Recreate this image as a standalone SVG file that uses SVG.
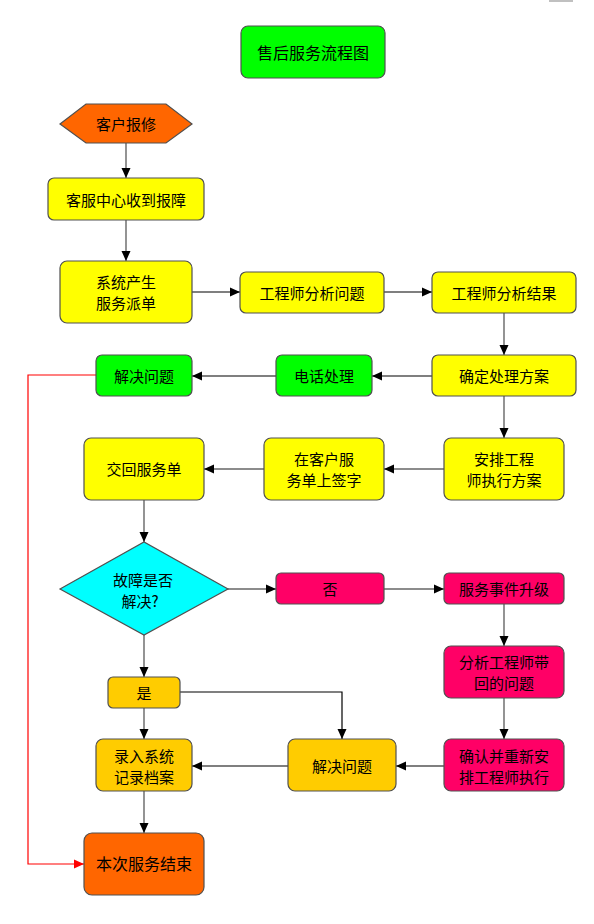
<svg xmlns="http://www.w3.org/2000/svg" width="594" height="924" viewBox="0 0 594 924">
<defs>
<style>
.box{stroke:#505050;stroke-width:1.2}
.y{fill:#FFFF00}.g{fill:#00FF00}.o{fill:#FF6600}.c{fill:#00FFFF}.p{fill:#FF0066}.gd{fill:#FFCC00}
text{font-family:"Noto Sans CJK SC","Liberation Sans",sans-serif;font-size:15px;fill:#000;text-anchor:middle;dominant-baseline:central}
.k{fill:none;stroke:#000;stroke-width:1.2}
.gr{fill:none;stroke:#666;stroke-width:1.4}
.rd{fill:none;stroke:#FF0000;stroke-width:1.2}
</style>
<marker id="ah" markerUnits="userSpaceOnUse" markerWidth="12" markerHeight="12" viewBox="0 0 12 12" refX="11" refY="6" orient="auto">
<path d="M1,1.5 L11,6 L1,10.5 Z" fill="#000"/>
</marker>
<marker id="ahr" markerUnits="userSpaceOnUse" markerWidth="12" markerHeight="12" viewBox="0 0 12 12" refX="11" refY="6" orient="auto">
<path d="M1,1.5 L11,6 L1,10.5 Z" fill="#FF0000"/>
</marker>
</defs>
<rect x="0" y="0" width="594" height="924" fill="#fff"/>
<rect x="549" y="0" width="24" height="2" fill="#c0c0c0"/>

<g id="connectors">
<path class="gr" d="M126,143 V178" marker-end="url(#ah)"/>
<path class="gr" d="M126,220 V261" marker-end="url(#ah)"/>
<path class="k" d="M192,292 H240" marker-end="url(#ah)"/>
<path class="k" d="M384,292 H432" marker-end="url(#ah)"/>
<path class="gr" d="M504,313 V355" marker-end="url(#ah)"/>
<path class="k" d="M432,376 H372" marker-end="url(#ah)"/>
<path class="k" d="M276,376 H192" marker-end="url(#ah)"/>
<path class="gr" d="M504,396 V438" marker-end="url(#ah)"/>
<path class="gr" d="M444,469 H384" marker-end="url(#ah)"/>
<path class="gr" d="M264,469 H204" marker-end="url(#ah)"/>
<path class="gr" d="M144,500 V542" marker-end="url(#ah)"/>
<path class="gr" d="M228,589 H276" marker-end="url(#ah)"/>
<path class="gr" d="M384,589 H444" marker-end="url(#ah)"/>
<path class="gr" d="M504,604 V646" marker-end="url(#ah)"/>
<path class="gr" d="M504,698 V739" marker-end="url(#ah)"/>
<path class="gr" d="M144,635 V677" marker-end="url(#ah)"/>
<path class="k" d="M180,692 H342 V739" marker-end="url(#ah)"/>
<path class="gr" d="M144,708 V739" marker-end="url(#ah)"/>
<path class="k" d="M444,766 H396" marker-end="url(#ah)"/>
<path class="k" d="M288,766 H192" marker-end="url(#ah)"/>
<path class="gr" d="M144,791 V833" marker-end="url(#ah)"/>
<path class="rd" d="M96,375 H28 V864 H84" marker-end="url(#ahr)"/>
</g>

<g id="title"><rect class="box g" x="241" y="26" width="144" height="52" rx="7"/><text x="313" y="52" style="font-size:16px">售后服务流程图</text></g>
<g id="n-report"><polygon class="box o" points="60,124 86,104 166,104 192,124 166,143 86,143"/><text x="126" y="123">客户报修</text></g>
<g id="n-receive"><rect class="box y" x="48" y="178" width="156" height="42" rx="6"/><text x="126" y="199">客服中心收到报障</text></g>
<g id="n-dispatch"><rect class="box y" x="60" y="261" width="132" height="62" rx="7"/><text x="126" y="281">系统产生</text><text x="126" y="302">服务派单</text></g>
<g id="n-analyze"><rect class="box y" x="240" y="272" width="144" height="41" rx="6"/><text x="312" y="292">工程师分析问题</text></g>
<g id="n-result"><rect class="box y" x="432" y="272" width="144" height="41" rx="6"/><text x="504" y="292">工程师分析结果</text></g>
<g id="n-plan"><rect class="box y" x="432" y="355" width="144" height="41" rx="6"/><text x="504" y="375">确定处理方案</text></g>
<g id="n-phone"><rect class="box g" x="276" y="355" width="96" height="41" rx="6"/><text x="324" y="375">电话处理</text></g>
<g id="n-solve1"><rect class="box g" x="96" y="355" width="96" height="41" rx="6"/><text x="144" y="375">解决问题</text></g>
<g id="n-arrange"><rect class="box y" x="444" y="438" width="120" height="62" rx="7"/><text x="504" y="458">安排工程</text><text x="504" y="479">师执行方案</text></g>
<g id="n-sign"><rect class="box y" x="264" y="438" width="120" height="62" rx="7"/><text x="324" y="458">在客户服</text><text x="324" y="479">务单上签字</text></g>
<g id="n-return"><rect class="box y" x="84" y="438" width="120" height="62" rx="7"/><text x="144" y="468">交回服务单</text></g>
<g id="n-decide"><polygon class="box c" points="60,589 144,542 228,589 144,635"/><text x="143" y="579">故障是否</text><text x="140" y="600">解决?</text></g>
<g id="n-no"><rect class="box p" x="276" y="573" width="108" height="31" rx="5"/><text x="330" y="588">否</text></g>
<g id="n-escalate"><rect class="box p" x="444" y="573" width="120" height="31" rx="5"/><text x="504" y="588">服务事件升级</text></g>
<g id="n-analyze2"><rect class="box p" x="444" y="646" width="120" height="52" rx="7"/><text x="504" y="661">分析工程师带</text><text x="504" y="682">回的问题</text></g>
<g id="n-yes"><rect class="box gd" x="108" y="677" width="72" height="31" rx="5"/><text x="144" y="692">是</text></g>
<g id="n-record"><rect class="box gd" x="96" y="739" width="96" height="52" rx="7"/><text x="144" y="755">录入系统</text><text x="144" y="776">记录档案</text></g>
<g id="n-solve2"><rect class="box gd" x="288" y="739" width="108" height="52" rx="7"/><text x="342" y="765">解决问题</text></g>
<g id="n-confirm"><rect class="box p" x="444" y="739" width="120" height="52" rx="7"/><text x="504" y="755">确认并重新安</text><text x="504" y="776">排工程师执行</text></g>
<g id="n-end"><rect class="box o" x="84" y="833" width="120" height="62" rx="8"/><text x="144" y="863" style="font-size:16px">本次服务结束</text></g>
</svg>
